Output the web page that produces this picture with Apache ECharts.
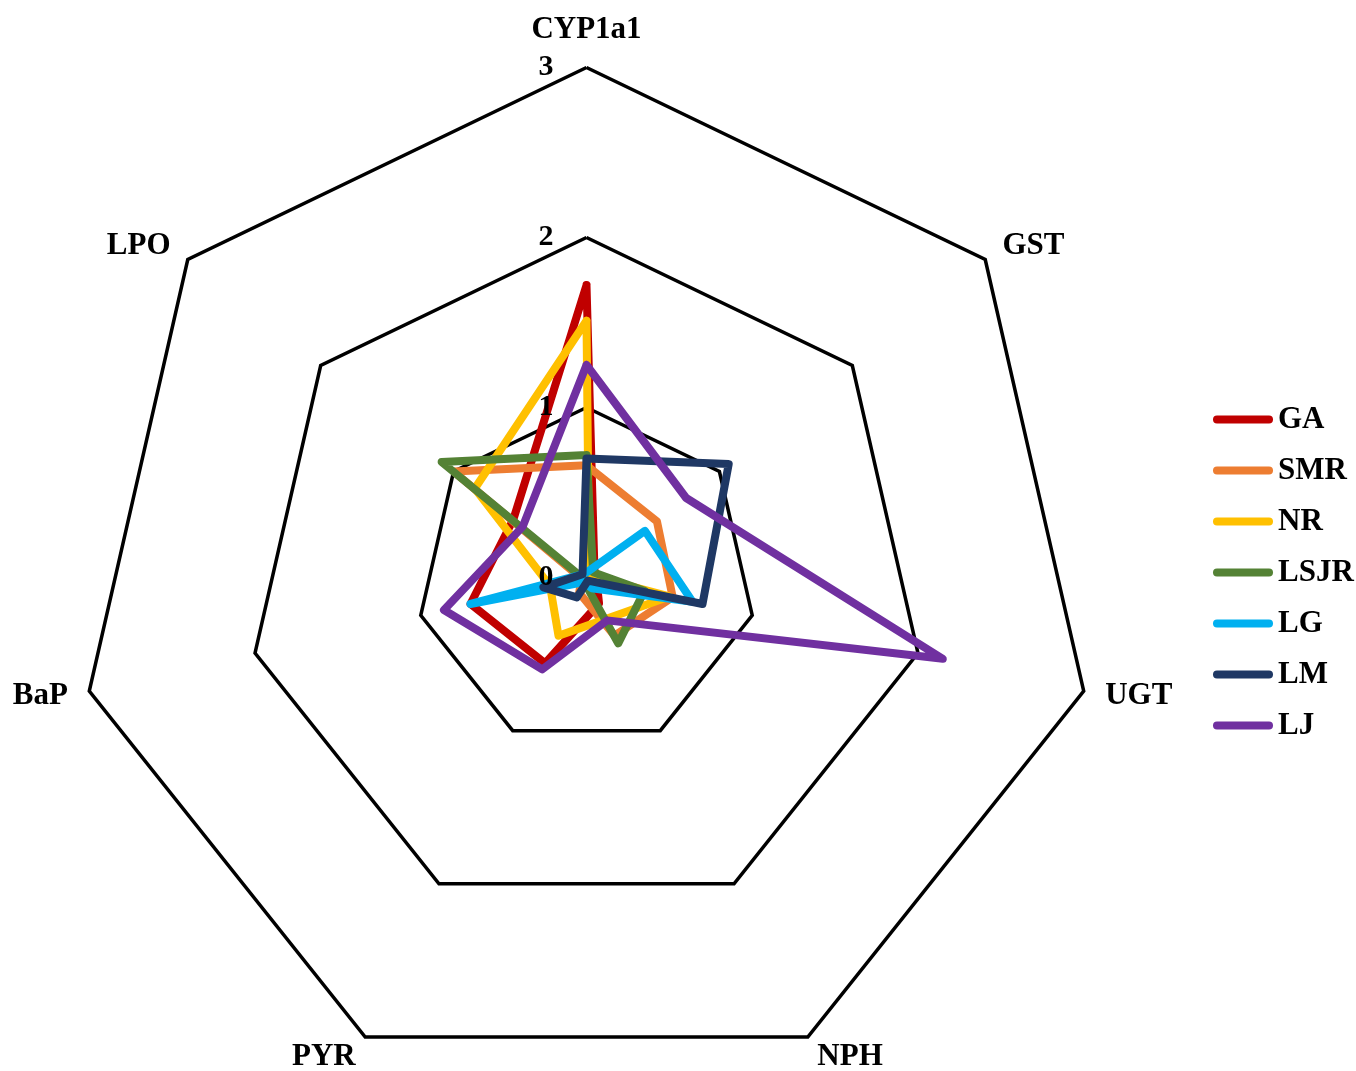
<!DOCTYPE html>
<html>
<head>
<meta charset="utf-8">
<script src="https://cdn.jsdelivr.net/npm/echarts@6/dist/echarts.min.js"></script>
<style>
html,body{margin:0;padding:0;background:#fff;}
#chart{width:1356px;height:1071px;}
</style>
</head>
<body>
<div id="chart"></div>
<script>
// Indicators in clockwise order starting at the top
const indicators = ['CYP1a1', 'GST', 'UGT', 'NPH', 'PYR', 'BaP', 'LPO'];
const seriesNames = ['GA', 'SMR', 'NR', 'LSJR', 'LG', 'LM', 'LJ'];
const colors = ['#C00000', '#ED7D31', '#FFC000', '#548235', '#00B0F0', '#1F3864', '#7030A0'];
const GA   = [1.72, 0.06, 0.06, 0.17, 0.56, 0.70, 0.55];
const SMR  = [0.66, 0.53, 0.52, 0.38, 0.10, 0.03, 1.00];
const NR   = [1.51, 0.02, 0.50, 0.27, 0.38, 0.22, 0.84];
const LSJR = [0.72, 0.05, 0.35, 0.43, 0.03, 0.02, 1.09];
const LG   = [0.03, 0.44, 0.64, 0.07, 0.03, 0.70, 0.03];
const LM   = [0.70, 1.07, 0.70, 0.02, 0.13, 0.26, 0.03];
const LJ   = [1.25, 0.75, 2.15, 0.28, 0.60, 0.86, 0.48];
const axisMax = 3;
const tickLabels = ['0', '1', '2', '3'];

const allData = [GA, SMR, NR, LSJR, LG, LM, LJ];

// ECharts lays indicators counter-clockwise; reorder to get clockwise layout
const order = [0, 6, 5, 4, 3, 2, 1];
const font = '"Liberation Serif", "Times New Roman", serif';

function makeIndicators(showLabelFirst) {
  return order.map((k, i) => {
    const o = { name: indicators[k], min: 0, max: axisMax };
    if (showLabelFirst) o.axisLabel = { show: i === 0 };
    return o;
  });
}

const chart = echarts.init(document.getElementById('chart'), null, { renderer: 'canvas' });
const option = {
  backgroundColor: '#ffffff',
  animation: false,
  legend: {
    orient: 'vertical',
    left: 1208,
    top: 399,
    itemWidth: 60,
    itemHeight: 8,
    itemGap: 20,
    icon: 'path://M4,0 H56 A4,4 0 0 1 56,8 H4 A4,4 0 0 1 4,0 Z',
    textStyle: { fontFamily: font, fontWeight: 'bold', fontSize: 31, color: '#000', lineHeight: 31 },
    data: seriesNames
  },
  radar: [
    {
      center: [586.5, 577.5],
      radius: 510,
      splitNumber: 3,
      shape: 'polygon',
      indicator: makeIndicators(false),
      axisName: { color: '#000', fontFamily: font, fontWeight: 'bold', fontSize: 31 },
      nameGap: 22,
      axisLine: { show: false },
      axisTick: { show: false },
      axisLabel: { show: false },
      splitArea: { show: false },
      splitLine: { lineStyle: { color: '#000', width: 3.5 } },
      z: 0
    },
    {
      center: [586.5, 577.5],
      radius: 510,
      splitNumber: 3,
      shape: 'polygon',
      indicator: makeIndicators(true),
      axisName: { show: false },
      axisLine: { show: false },
      axisTick: { show: false },
      axisLabel: {
        show: true, color: '#000', fontFamily: font, fontWeight: 'bold', fontSize: 30, margin: 33,
        formatter: function (v) { const i = Math.round(v); return tickLabels[i] !== undefined ? tickLabels[i] : ''; }
      },
      splitArea: { show: false },
      splitLine: { show: false },
      silent: true,
      z: 10
    }
  ],
  series: seriesNames.map((name, s) => ({
    type: 'radar',
    name: name,
    radarIndex: 0,
    z: 2 + s * 0.01,
    symbol: 'none',
    lineStyle: { color: colors[s], width: 8, cap: 'round', join: 'round' },
    itemStyle: { color: colors[s] },
    data: [{ value: order.map(k => allData[s][k]), name: name }]
  }))
};
chart.setOption(option);
</script>
</body>
</html>
